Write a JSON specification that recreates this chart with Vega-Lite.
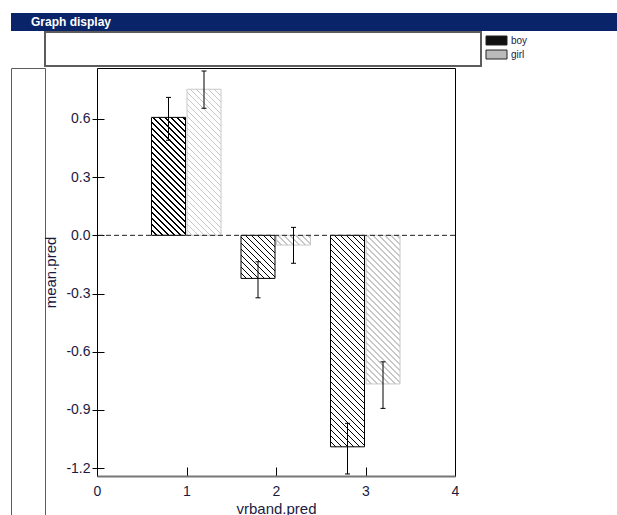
{
  "$schema": "https://vega.github.io/schema/vega-lite/v6.json",
  "background": "white",
  "padding": {"left": 10, "top": 13, "right": 0, "bottom": 0},
  "spacing": 0,
  "params": [
    {
      "name": "hatch",
      "expr": "[{offset:0.01786,color:'#fff'},{offset:0.01786,color:'#000'},{offset:0.02381,color:'#000'},{offset:0.02381,color:'#fff'},{offset:0.04167,color:'#fff'},{offset:0.04167,color:'#000'},{offset:0.04762,color:'#000'},{offset:0.04762,color:'#fff'},{offset:0.06548,color:'#fff'},{offset:0.06548,color:'#000'},{offset:0.07143,color:'#000'},{offset:0.07143,color:'#fff'},{offset:0.08929,color:'#fff'},{offset:0.08929,color:'#000'},{offset:0.09524,color:'#000'},{offset:0.09524,color:'#fff'},{offset:0.1131,color:'#fff'},{offset:0.1131,color:'#000'},{offset:0.11905,color:'#000'},{offset:0.11905,color:'#fff'},{offset:0.1369,color:'#fff'},{offset:0.1369,color:'#000'},{offset:0.14286,color:'#000'},{offset:0.14286,color:'#fff'},{offset:0.16071,color:'#fff'},{offset:0.16071,color:'#000'},{offset:0.16667,color:'#000'},{offset:0.16667,color:'#fff'},{offset:0.18452,color:'#fff'},{offset:0.18452,color:'#000'},{offset:0.19048,color:'#000'},{offset:0.19048,color:'#fff'},{offset:0.20833,color:'#fff'},{offset:0.20833,color:'#000'},{offset:0.21429,color:'#000'},{offset:0.21429,color:'#fff'},{offset:0.23214,color:'#fff'},{offset:0.23214,color:'#000'},{offset:0.2381,color:'#000'},{offset:0.2381,color:'#fff'},{offset:0.25595,color:'#fff'},{offset:0.25595,color:'#000'},{offset:0.2619,color:'#000'},{offset:0.2619,color:'#fff'},{offset:0.27976,color:'#fff'},{offset:0.27976,color:'#000'},{offset:0.28571,color:'#000'},{offset:0.28571,color:'#fff'},{offset:0.30357,color:'#fff'},{offset:0.30357,color:'#000'},{offset:0.30952,color:'#000'},{offset:0.30952,color:'#fff'},{offset:0.32738,color:'#fff'},{offset:0.32738,color:'#000'},{offset:0.33333,color:'#000'},{offset:0.33333,color:'#fff'},{offset:0.35119,color:'#fff'},{offset:0.35119,color:'#000'},{offset:0.35714,color:'#000'},{offset:0.35714,color:'#fff'},{offset:0.375,color:'#fff'},{offset:0.375,color:'#000'},{offset:0.38095,color:'#000'},{offset:0.38095,color:'#fff'},{offset:0.39881,color:'#fff'},{offset:0.39881,color:'#000'},{offset:0.40476,color:'#000'},{offset:0.40476,color:'#fff'},{offset:0.42262,color:'#fff'},{offset:0.42262,color:'#000'},{offset:0.42857,color:'#000'},{offset:0.42857,color:'#fff'},{offset:0.44643,color:'#fff'},{offset:0.44643,color:'#000'},{offset:0.45238,color:'#000'},{offset:0.45238,color:'#fff'},{offset:0.47024,color:'#fff'},{offset:0.47024,color:'#000'},{offset:0.47619,color:'#000'},{offset:0.47619,color:'#fff'},{offset:0.49405,color:'#fff'},{offset:0.49405,color:'#000'},{offset:0.5,color:'#000'},{offset:0.5,color:'#fff'},{offset:0.51786,color:'#fff'},{offset:0.51786,color:'#000'},{offset:0.52381,color:'#000'},{offset:0.52381,color:'#fff'},{offset:0.54167,color:'#fff'},{offset:0.54167,color:'#000'},{offset:0.54762,color:'#000'},{offset:0.54762,color:'#fff'},{offset:0.56548,color:'#fff'},{offset:0.56548,color:'#000'},{offset:0.57143,color:'#000'},{offset:0.57143,color:'#fff'},{offset:0.58929,color:'#fff'},{offset:0.58929,color:'#000'},{offset:0.59524,color:'#000'},{offset:0.59524,color:'#fff'},{offset:0.6131,color:'#fff'},{offset:0.6131,color:'#000'},{offset:0.61905,color:'#000'},{offset:0.61905,color:'#fff'},{offset:0.6369,color:'#fff'},{offset:0.6369,color:'#000'},{offset:0.64286,color:'#000'},{offset:0.64286,color:'#fff'},{offset:0.66071,color:'#fff'},{offset:0.66071,color:'#000'},{offset:0.66667,color:'#000'},{offset:0.66667,color:'#fff'},{offset:0.68452,color:'#fff'},{offset:0.68452,color:'#000'},{offset:0.69048,color:'#000'},{offset:0.69048,color:'#fff'},{offset:0.70833,color:'#fff'},{offset:0.70833,color:'#000'},{offset:0.71429,color:'#000'},{offset:0.71429,color:'#fff'},{offset:0.73214,color:'#fff'},{offset:0.73214,color:'#000'},{offset:0.7381,color:'#000'},{offset:0.7381,color:'#fff'},{offset:0.75595,color:'#fff'},{offset:0.75595,color:'#000'},{offset:0.7619,color:'#000'},{offset:0.7619,color:'#fff'},{offset:0.77976,color:'#fff'},{offset:0.77976,color:'#000'},{offset:0.78571,color:'#000'},{offset:0.78571,color:'#fff'},{offset:0.80357,color:'#fff'},{offset:0.80357,color:'#000'},{offset:0.80952,color:'#000'},{offset:0.80952,color:'#fff'},{offset:0.82738,color:'#fff'},{offset:0.82738,color:'#000'},{offset:0.83333,color:'#000'},{offset:0.83333,color:'#fff'},{offset:0.85119,color:'#fff'},{offset:0.85119,color:'#000'},{offset:0.85714,color:'#000'},{offset:0.85714,color:'#fff'},{offset:0.875,color:'#fff'},{offset:0.875,color:'#000'},{offset:0.88095,color:'#000'},{offset:0.88095,color:'#fff'},{offset:0.89881,color:'#fff'},{offset:0.89881,color:'#000'},{offset:0.90476,color:'#000'},{offset:0.90476,color:'#fff'},{offset:0.92262,color:'#fff'},{offset:0.92262,color:'#000'},{offset:0.92857,color:'#000'},{offset:0.92857,color:'#fff'},{offset:0.94643,color:'#fff'},{offset:0.94643,color:'#000'},{offset:0.95238,color:'#000'},{offset:0.95238,color:'#fff'},{offset:0.97024,color:'#fff'},{offset:0.97024,color:'#000'},{offset:0.97619,color:'#000'},{offset:0.97619,color:'#fff'},{offset:0.99405,color:'#fff'},{offset:0.99405,color:'#000'},{offset:1,color:'#000'}]"
    }
  ],
  "config": {
    "font": "Liberation Sans",
    "locale": {"number": {"decimal": ".", "thousands": ",", "grouping": [3], "currency": ["$", ""], "minus": "-"}},
    "axis": {
      "grid": false,
      "labelFontSize": 14,
      "labelColor": "#1b1b3f",
      "titleFontSize": 15,
      "titleFontWeight": "normal",
      "titleColor": "#1b1b3f",
      "tickColor": "black",
      "tickWidth": 1,
      "labelFlush": false,
      "labelOverlap": false,
      "labelBound": false
    },
    "axisX": {"tickSize": -9, "domainColor": "#777777", "domainWidth": 2, "labelPadding": 17, "titlePadding": 3, "zindex": 1},
    "axisY": {"domain": false, "tickSize": 12, "offset": -7, "labelPadding": 2, "titlePadding": 7}
  },
  "vconcat": [
    {
      "width": 606,
      "height": 18,
      "view": {"fill": "#0a246a", "stroke": null},
      "data": {"values": [{"caption": "Graph display", "start": 0}]},
      "mark": {
        "type": "text",
        "align": "left",
        "baseline": "middle",
        "dx": 20,
        "color": "white",
        "fontSize": 12,
        "fontWeight": "bold"
      },
      "encoding": {
        "x": {"field": "start", "type": "quantitative", "scale": {"domain": [0, 1]}, "axis": null},
        "text": {"field": "caption"}
      }
    },
    {
      "bounds": "flush",
      "spacing": 0,
      "hconcat": [
        {
          "width": 34,
          "height": 34,
          "view": {"stroke": null},
          "data": {"values": []},
          "mark": "point"
        },
        {
          "width": 436,
          "height": 34,
          "view": {"stroke": "#5c5c5c", "strokeWidth": 2, "fill": "white"},
          "data": {"values": [{"sex": "boy"}, {"sex": "girl"}]},
          "mark": {"type": "text", "text": ""},
          "encoding": {
            "fill": {
              "field": "sex",
              "type": "nominal",
              "scale": {"domain": ["boy", "girl"], "range": ["#111111", "#bbbbbb"]},
              "legend": {
                "orient": "none",
                "legendX": 480,
                "legendY": 22,
                "title": null,
                "padding": 0,
                "symbolType": "M-2.1,-0.9H2.1V0.9H-2.1Z",
                "symbolSize": 100,
                "symbolStrokeColor": "#222222",
                "symbolStrokeWidth": 1,
                "symbolOpacity": 1,
                "labelOffset": 9,
                "labelFontSize": 10,
                "labelColor": "#1b1b3f",
                "rowPadding": 1
              }
            }
          }
        }
      ]
    },
    {
      "bounds": "flush",
      "spacing": 52,
      "hconcat": [
        {
          "width": 34,
          "height": 447,
          "view": {"stroke": "#5c5c5c", "strokeWidth": 1},
          "data": {"values": []},
          "mark": "point"
        },
        {
          "width": 358,
          "height": 408,
          "view": {"stroke": "black", "strokeWidth": 1},
          "data": {
            "values": [
              {"vrband": 1, "sex": "boy", "mean": 0.608, "lo": 0.49, "hi": 0.711},
              {"vrband": 1, "sex": "girl", "mean": 0.753, "lo": 0.655, "hi": 0.847},
              {"vrband": 2, "sex": "boy", "mean": -0.222, "lo": -0.322, "hi": -0.136},
              {"vrband": 2, "sex": "girl", "mean": -0.05, "lo": -0.144, "hi": 0.041},
              {"vrband": 3, "sex": "boy", "mean": -1.09, "lo": -1.23, "hi": -0.969},
              {"vrband": 3, "sex": "girl", "mean": -0.766, "lo": -0.892, "hi": -0.652}
            ]
          },
          "layer": [
            {
              "transform": [{"filter": "datum.sex === 'boy'"}],
              "mark": {
                "type": "bar",
                "orient": "vertical",
                "width": 34,
                "xOffset": -18,
                "stroke": "black",
                "strokeWidth": 1,
                "fill": {"expr": "{gradient: 'linear', x1: 0, y1: 1, x2: 34 * 252 / (1156 + pow(abs(datum.mean) * 194, 2)), y2: 1 - abs(datum.mean) * 194 * 252 / (1156 + pow(abs(datum.mean) * 194, 2)), stops: hatch}"}
              },
              "encoding": {
                "x": {
                  "field": "vrband",
                  "type": "quantitative",
                  "title": "vrband.pred",
                  "scale": {"domain": [0, 4], "nice": false, "zero": false, "padding": 0},
                  "axis": {"values": [0, 1, 2, 3, 4], "format": "d", "labelFlush": false}
                },
                "y": {
                  "field": "mean",
                  "type": "quantitative",
                  "title": "mean.pred",
                  "scale": {"domain": [-1.2405, 0.8625], "nice": false, "zero": false},
                  "axis": {"values": [-1.2, -0.9, -0.6, -0.3, 0, 0.3, 0.6], "format": ".1f", "labelFlush": false}
                }
              }
            },
            {
              "transform": [{"filter": "datum.sex === 'girl'"}],
              "mark": {
                "type": "bar",
                "orient": "vertical",
                "width": 34,
                "xOffset": 17.5,
                "stroke": "#c8c8c8",
                "strokeWidth": 1,
                "fillOpacity": 0.22,
                "fill": {"expr": "{gradient: 'linear', x1: 0, y1: 1, x2: 34 * 252 / (1156 + pow(abs(datum.mean) * 194, 2)), y2: 1 - abs(datum.mean) * 194 * 252 / (1156 + pow(abs(datum.mean) * 194, 2)), stops: hatch}"}
              },
              "encoding": {
                "x": {"field": "vrband", "type": "quantitative", "title": "vrband.pred"},
                "y": {"field": "mean", "type": "quantitative", "title": "mean.pred"}
              }
            },
            {
              "data": {"values": [{"baseline": 0}]},
              "mark": {"type": "rule", "strokeDash": [5, 3], "color": "#222222", "strokeWidth": 1},
              "encoding": {
                "y": {"field": "baseline", "type": "quantitative", "title": "mean.pred"}
              }
            },
            {
              "transform": [{"filter": "datum.sex === 'boy'"}],
              "mark": {"type": "rule", "xOffset": -18, "color": "black", "strokeWidth": 1},
              "encoding": {
                "x": {"field": "vrband", "type": "quantitative", "title": "vrband.pred"},
                "y": {"field": "lo", "type": "quantitative", "title": "mean.pred"},
                "y2": {"field": "hi"}
              }
            },
            {
              "transform": [{"filter": "datum.sex === 'girl'"}],
              "mark": {"type": "rule", "xOffset": 17.5, "color": "black", "strokeWidth": 1},
              "encoding": {
                "x": {"field": "vrband", "type": "quantitative", "title": "vrband.pred"},
                "y": {"field": "lo", "type": "quantitative", "title": "mean.pred"},
                "y2": {"field": "hi"}
              }
            },
            {
              "transform": [
                {"filter": "datum.sex === 'boy'"},
                {"fold": ["lo", "hi"], "as": ["end", "val"]}
              ],
              "mark": {"type": "tick", "orient": "horizontal", "size": 5, "thickness": 1, "xOffset": -18, "color": "black", "opacity": 1},
              "encoding": {
                "x": {"field": "vrband", "type": "quantitative", "title": "vrband.pred"},
                "y": {"field": "val", "type": "quantitative", "title": "mean.pred"}
              }
            },
            {
              "transform": [
                {"filter": "datum.sex === 'girl'"},
                {"fold": ["lo", "hi"], "as": ["end", "val"]}
              ],
              "mark": {"type": "tick", "orient": "horizontal", "size": 5, "thickness": 1, "xOffset": 17.5, "color": "black", "opacity": 1},
              "encoding": {
                "x": {"field": "vrband", "type": "quantitative", "title": "vrband.pred"},
                "y": {"field": "val", "type": "quantitative", "title": "mean.pred"}
              }
            }
          ]
        }
      ]
    }
  ]
}
